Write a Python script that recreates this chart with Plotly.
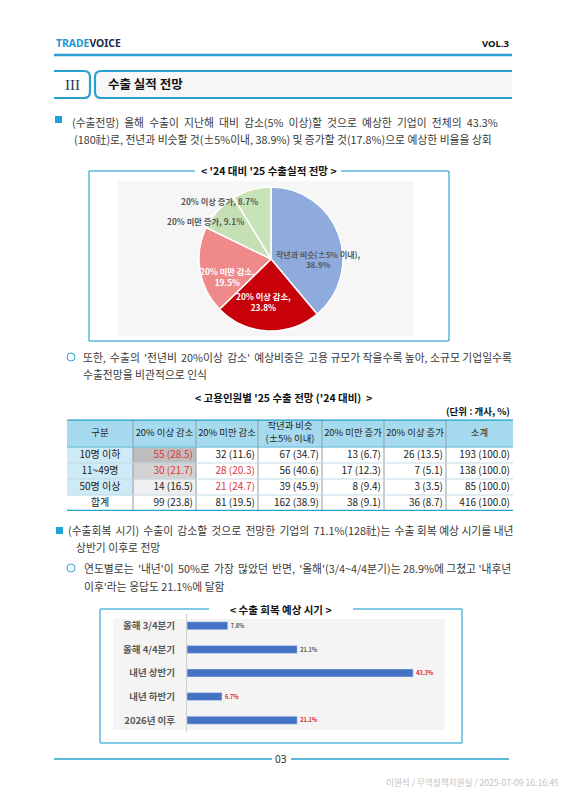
import plotly.graph_objects as go

# ---- data ----
pie_labels = ['작년과 비슷(±5% 이내)', '20% 이상 감소', '20% 미만 감소', '20% 미만 증가', '20% 이상 증가']
pie_values = [38.9, 23.8, 19.5, 9.1, 8.7]
pie_colors = ['#8faadc', '#c8000a', '#f08a8a', '#c5e0b4', '#c9e3b9']

tbl_groups = ['10명 이하', '11~49명', '50명 이상', '합계']
tbl_header = ['구분', '20% 이상 감소', '20% 미만 감소', '작년과 비슷<br>(±5% 이내)',
              '20% 미만 증가', '20% 이상 증가', '소계']
cnt_dec_big = [55, 30, 14, 99]
pct_dec_big = [28.5, 21.7, 16.5, 23.8]
cnt_dec_small = [32, 28, 21, 81]
pct_dec_small = [11.6, 20.3, 24.7, 19.5]
cnt_flat = [67, 56, 39, 162]
pct_flat = [34.7, 40.6, 45.9, 38.9]
cnt_inc_small = [13, 17, 8, 38]
pct_inc_small = [6.7, 12.3, 9.4, 9.1]
cnt_inc_big = [26, 7, 3, 36]
pct_inc_big = [13.5, 5.1, 3.5, 8.7]
cnt_total = [193, 138, 85, 416]
pct_total = [100.0, 100.0, 100.0, 100.0]

recover_periods = ['올해 3/4분기', '올해 4/4분기', '내년 상반기', '내년 하반기', '2026년 이후']
recover_pct = [7.8, 21.1, 43.3, 6.7, 21.1]

# ---- helpers: positions given in page px (browser body adds an 8px margin) ----
OFF = 8
W, H = 566 - OFF, 800 - OFF
KR = 'Noto Sans CJK KR'
TEAL = '#2ba0cf'
FRAME = '#5ab7dc'
BODY = '#3a3a3a'


def X(px):
    return (px - OFF) / W


def Y(py):
    return 1 - (py - OFF) / H


def spread(s, n, ch='\u2006'):
    # widen the first n word gaps a little (justified lines in the original)
    parts = s.split(' ')
    out = parts[0]
    for i, p in enumerate(parts[1:]):
        out += (' ' + ch if i < n else ' ') + p
    return out


fig = go.Figure()


def note(x, y, s, size=10.8, color=BODY, anchor='left', family=KR, weight='normal'):
    fig.add_annotation(xref='paper', yref='paper', x=X(x), y=Y(y), text=s,
                       showarrow=False, xanchor=anchor, yanchor='middle',
                       font=dict(family=family, size=size, color=color, weight=weight))


def line(x0, y0, x1, y1, color=TEAL, width=1.5, layer='above'):
    fig.add_shape(type='line', xref='paper', yref='paper', x0=X(x0), y0=Y(y0),
                  x1=X(x1), y1=Y(y1), line=dict(color=color, width=width), layer=layer)


def rect(x0, y0, x1, y1, fill, layer='below'):
    fig.add_shape(type='rect', xref='paper', yref='paper', x0=X(x0), y0=Y(y0),
                  x1=X(x1), y1=Y(y1), fillcolor=fill, line=dict(width=0), layer=layer)


def path(cmds, color=TEAL, width=2.2, fill=None):
    out = []
    for c in cmds:
        pts = c[1:]
        coords = [f'{X(pts[i]):.5f},{Y(pts[i + 1]):.5f}' for i in range(0, len(pts), 2)]
        out.append(c[0] + ' '.join(coords))
    fig.add_shape(type='path', xref='paper', yref='paper', path=' '.join(out),
                  line=dict(color=color, width=width),
                  fillcolor=fill or 'rgba(0,0,0,0)', layer='above')


# ---- page header ----
note(54, 43, "<span style='color:#1c97d0'>TRADE</span><span style='color:#1b2a4e'>VOICE</span>",
     size=10.4, family='Noto Sans', weight='bold')
note(512, 43, 'VOL.3', size=9.5, color='#111', anchor='right', family='Noto Sans', weight='bold')
line(54, 55, 512, 55, width=2.6)

path([('M', 54, 71), ('L', 84, 71), ('Q', 90, 71, 90, 77), ('L', 90, 92),
      ('Q', 90, 98, 84, 98), ('L', 54, 98)])
path([('M', 512, 71), ('L', 101, 71), ('Q', 95, 71, 95, 77), ('L', 95, 92),
      ('Q', 95, 98, 101, 98), ('L', 512, 98)], fill='#f7f7f7')
note(72, 85, 'III', size=15, color='#1f3864', anchor='center', family='Liberation Serif')
note(106, 84, '수출 실적 전망', size=12.5, color='#111', weight='bold')

# bullet 1
rect(55, 116, 62, 123, '#1ea3d8', layer='above')
note(70, 122, spread('(수출전망) 올해 수출이 지난해 대비 감소(5% 이상)할 것으로 예상한 기업이 전체의 43.3%',
                     11, '\u2005'))
note(72, 139, '(180社)로, 전년과 비슷할 것(±5%이내, 38.9%) 및 증가할 것(17.8%)으로 예상한 비율을 상회')

# ---- pie ----
line(89, 171, 195, 171, FRAME)
line(341, 171, 449, 171, FRAME)
line(89, 171, 89, 341, FRAME)
line(449, 171, 449, 341, FRAME)
line(89, 341, 449, 341, FRAME)
note(269, 171, "< '24 대비 '25 수출실적 전망 >", size=10.5, color='#111', anchor='center', weight='bold')
rect(118, 181, 414, 336, '#f6f6f6')

fig.add_trace(go.Pie(
    labels=pie_labels, values=pie_values, sort=False, direction='clockwise', rotation=0,
    marker=dict(colors=pie_colors, line=dict(color='white', width=1.5)),
    textinfo='none',
    domain=dict(x=[X(199), X(343)], y=[Y(331), Y(187)]),
    showlegend=False, hoverinfo='skip'))

# slice labels, placed as in the original picture
pie_lab_pos = [(318, 247), (263, 301), (227, 263), (165, 213), (219, 193)]
pie_lab_col = ['#595959', 'white', 'white', '#595959', '#595959']
for i, (lab, val) in enumerate(zip(pie_labels, pie_values)):
    sep = ', ' if i >= 3 else ',<br>'
    fig.add_annotation(xref='paper', yref='paper', x=X(pie_lab_pos[i][0]), y=Y(pie_lab_pos[i][1]),
                       text=f'{lab}{sep}{val}%', showarrow=False, align='center',
                       font=dict(family=KR, size=8 if i == 0 else 8.3, color=pie_lab_col[i],
                                 weight='bold'))

fig.add_shape(type='circle', xref='paper', yref='paper', x0=X(67), y0=Y(353), x1=X(75), y1=Y(361),
              line=dict(color='#2ba3d6', width=1))
note(81, 357, spread("또한, 수출의 '전년비 20%이상 감소' 예상비중은 고용 규모가 작을수록 높아, 소규모 기업일수록", 6))
note(81, 374, '수출전망을 비관적으로 인식')

# ---- table (cells as heatmap bricks + text) ----
note(283, 397, "< 고용인원별 '25 수출 전망 ('24 대비)  >", size=10.5, color='#111', anchor='center', weight='bold')
note(512, 411, '(단위 : 개사, %)', size=9.5, color='#111', anchor='right', weight='bold')


def fmt(cnts, pcts):
    return [f'{c} ({p:.1f})' for c, p in zip(cnts, pcts)]


cols = [fmt(cnt_dec_big, pct_dec_big), fmt(cnt_dec_small, pct_dec_small),
        fmt(cnt_flat, pct_flat), fmt(cnt_inc_small, pct_inc_small),
        fmt(cnt_inc_big, pct_inc_big), fmt(cnt_total, pct_total)]
RED = '#e0353b'
DK = '#222222'
red_cells = {(0, 0), (0, 1), (1, 1), (1, 2)}  # (column, row) shown in red

col_w = [66, 63, 62, 64, 62, 62, 67]
row_h = [27.5, 16, 16, 16, 16]
x_edges = [0]
for w in col_w:
    x_edges.append(x_edges[-1] + w)
y_edges = [0]
for h in row_h:
    y_edges.append(y_edges[-1] + h)
xc = [(x_edges[i] + x_edges[i + 1]) / 2 for i in range(len(col_w))]
yc = [(y_edges[i] + y_edges[i + 1]) / 2 for i in range(len(row_h))]

# fill codes: 0 white, 1 header, 2 group col, 3/4/5 greys
fill_cols = ['white', '#a6dbef', '#cdeaf6', '#bdbdbd', '#d2d2d2', '#efefef']
codes = [[1] * 7,
         [2, 3, 0, 0, 0, 0, 0],
         [2, 4, 0, 0, 0, 0, 0],
         [2, 5, 0, 0, 0, 0, 0],
         [0] * 7]
cscale = []
for k, c in enumerate(fill_cols):
    cscale += [[k / len(fill_cols), c], [(k + 1) / len(fill_cols), c]]
fig.add_trace(go.Heatmap(x=x_edges, y=y_edges, z=codes, zmin=-0.5, zmax=len(fill_cols) - 0.5,
                         colorscale=cscale, showscale=False, hoverinfo='skip',
                         xaxis='x2', yaxis='y2'))

fig.add_trace(go.Scatter(x=xc, y=[yc[0]] * 7, text=tbl_header, mode='text', xaxis='x2', yaxis='y2',
                         textfont=dict(family=KR, size=9.4, color=DK), cliponaxis=False,
                         showlegend=False, hoverinfo='skip'))
fig.add_trace(go.Scatter(x=[xc[0]] * 4, y=yc[1:], text=tbl_groups, mode='text', xaxis='x2', yaxis='y2',
                         textfont=dict(family=KR, size=10, color=DK), cliponaxis=False,
                         showlegend=False, hoverinfo='skip'))
vx, vy, vt, vc = [], [], [], []
for ci, col in enumerate(cols):
    for ri, val in enumerate(col):
        vx.append(x_edges[ci + 2] - 3)
        vy.append(yc[ri + 1])
        vt.append(val)
        vc.append(RED if (ci, ri) in red_cells else DK)
fig.add_trace(go.Scatter(x=vx, y=vy, text=vt, mode='text', textposition='middle left',
                         xaxis='x2', yaxis='y2', cliponaxis=False,
                         textfont=dict(family=KR, size=10, color=vc),
                         showlegend=False, hoverinfo='skip'))

for xe in x_edges[1:-1]:
    fig.add_shape(type='line', xref='x2', yref='y2', x0=xe, x1=xe, y0=0, y1=y_edges[-1],
                  line=dict(color='#8f9da3', width=1), layer='above')
for i, ye in enumerate(y_edges[1:-1]):
    fig.add_shape(type='line', xref='x2', yref='y2', x0=0, x1=x_edges[-1], y0=ye, y1=ye,
                  line=dict(color='#6dbcdc' if i == 0 else '#c3dbe4', width=1), layer='above')
for ye in (0, y_edges[-1]):
    fig.add_shape(type='line', xref='x2', yref='y2', x0=0, x1=x_edges[-1], y0=ye, y1=ye,
                  line=dict(color=TEAL, width=2.4), layer='above')

# bullet 2
rect(56, 527, 63, 534, '#1ea3d8', layer='above')
note(66, 530, spread('(수출회복 시기) 수출이 감소할 것으로 전망한 기업의 71.1%(128社)는 수출 회복 예상 시기를 내년', 8))
note(74, 547, '상반기 이후로 전망')
fig.add_shape(type='circle', xref='paper', yref='paper', x0=X(67), y0=Y(564), x1=X(75), y1=Y(572),
              line=dict(color='#2ba3d6', width=1))
note(82, 568, spread("연도별로는 '내년'이 50%로 가장 많았던 반면, '올해'(3/4~4/4분기)는 28.9%에 그쳤고 '내후년", 6))
note(82, 586, "이후'라는 응답도 21.1%에 달함")

# ---- bars ----
line(100, 609, 209, 609, FRAME)
line(353, 609, 462, 609, FRAME)
line(100, 609, 100, 743, FRAME)
line(462, 609, 462, 743, FRAME)
line(100, 743, 462, 743, FRAME)
note(281, 609, '< 수출 회복 예상 시기 >', size=10.5, color='#111', anchor='center', weight='bold')
rect(113, 619, 445, 730, '#f4f4f4')

fig.add_trace(go.Bar(
    y=recover_periods, x=recover_pct, orientation='h',
    marker=dict(color='#4472c4'),
    texttemplate='%{x}%', textposition='outside', cliponaxis=False,
    textfont=dict(family=KR, size=9, weight='bold',
                  color=['#595959', '#595959', '#e02020', '#e02020', '#e02020']),
    showlegend=False, hoverinfo='skip'))

# footer
line(54, 759, 272, 759, TEAL, width=1.3)
line(291, 759, 509, 759, TEAL, width=1.3)
note(281, 759, '03', size=10, color='#333', anchor='center', family='Noto Sans')
note(561, 782, '이원석 / 무역정책지원실 / 2025-07-09 16:16:49', size=8.6, color='#c2c2c2', anchor='right')

fig.update_layout(
    width=W, height=H, margin=dict(l=0, r=0, t=0, b=0),
    paper_bgcolor='white', plot_bgcolor='rgba(0,0,0,0)',
    bargap=0.66,
    xaxis=dict(domain=[X(187), X(445)], range=[0, 49.4], visible=False, fixedrange=True),
    yaxis=dict(domain=[Y(732), Y(614)], autorange='reversed', showline=True,
               linecolor='#d0d0d0', linewidth=1, ticks='', ticklabelstandoff=9,
               tickfont=dict(family=KR, size=9.5, color='#595959', weight='bold'),
               showgrid=False, zeroline=False),
    xaxis2=dict(domain=[X(67), X(513)], range=[0, x_edges[-1]], visible=False, anchor='y2'),
    yaxis2=dict(domain=[Y(419.5 + y_edges[-1]), Y(419.5)], range=[y_edges[-1], 0],
                visible=False, anchor='x2'),
)

fig.write_html('out.html')
